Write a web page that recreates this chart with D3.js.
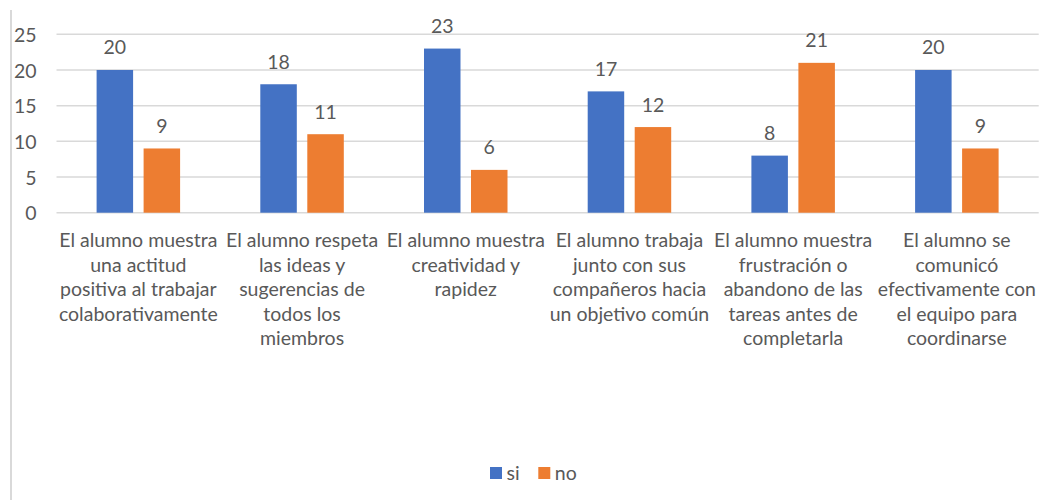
<!DOCTYPE html>
<html>
<head>
<meta charset="utf-8">
<script src="https://cdn.jsdelivr.net/npm/d3@7"></script>
<style>
  html, body { margin: 0; padding: 0; background: #fff; }
  svg text { font-family: Lato, "Liberation Sans", sans-serif; fill: #595959; }
</style>
</head>
<body>
<div class="svg-wrapper"></div>
<script>
// categories, each label already broken into lines like the original
var categories = [
  ["El alumno muestra", "una actitud", "positiva al trabajar", "colaborativamente"],
  ["El alumno respeta", "las ideas y", "sugerencias de", "todos los", "miembros"],
  ["El alumno muestra", "creatividad y", "rapidez"],
  ["El alumno trabaja", "junto con sus", "compañeros hacia", "un objetivo común"],
  ["El alumno muestra", "frustración o", "abandono de las", "tareas antes de", "completarla"],
  ["El alumno se", "comunicó", "efectivamente con", "el equipo para", "coordinarse"]
];
var seriesNames = ["si", "no"];
var siValues = [20, 18, 23, 17, 8, 20];
var noValues = [9, 11, 6, 12, 21, 9];
var yTicks = [0, 5, 10, 15, 20, 25];
var colors = ["#4472C4", "#ED7D31"];

var W = 1046, H = 500;
var plot = {left: 56.5, right: 1038.7, top: 34.3, bottom: 212.7};
var fontSize = 19.5;

var svg = d3.select(".svg-wrapper").append("svg")
  .attr("width", W)
  .attr("height", H);

// left border of the chart frame
svg.append("line")
  .attr("x1", 11).attr("x2", 11)
  .attr("y1", 10).attr("y2", H)
  .attr("stroke", "#d9d9d9")
  .attr("stroke-width", 2);

var idx = d3.range(categories.length);

var x = d3.scaleBand()
  .domain(idx)
  .range([plot.left, plot.right])
  .paddingInner(0)
  .paddingOuter(0);

var bw = x.bandwidth();
var barW = 36.5, barGap = 10.5;
var xs = d3.scaleBand()
  .domain(seriesNames)
  .range([0, 2 * barW + barGap])
  .paddingInner(barGap / (barW + barGap))
  .paddingOuter(0);

var y = d3.scaleLinear()
  .domain([0, 25])
  .range([plot.bottom, plot.top]);

// gridlines
svg.append("g")
  .selectAll("line")
  .data(yTicks)
  .join("line")
  .attr("x1", plot.left)
  .attr("x2", plot.right)
  .attr("y1", function(d) { return y(d); })
  .attr("y2", function(d) { return y(d); })
  .attr("stroke", "#d9d9d9")
  .attr("stroke-width", 1.5);

// y axis labels
var yAxis = d3.axisLeft(y).tickValues(yTicks).tickSize(0).tickPadding(0);
var yg = svg.append("g")
  .attr("transform", "translate(" + 36.5 + ",0)")
  .call(yAxis);
yg.select(".domain").remove();
yg.selectAll("text")
  .attr("font-size", fontSize)
  .attr("font-family", null)
  .attr("dy", "0.36em")
  .style("fill", "#595959");

var series = [siValues, noValues];
var off = (bw - (2 * barW + barGap)) / 2;

series.forEach(function(vals, s) {
  var g = svg.append("g");
  g.selectAll("rect")
    .data(vals)
    .join("rect")
    .attr("x", function(d, i) { return x(i) + off + xs(seriesNames[s]); })
    .attr("y", function(d) { return y(d); })
    .attr("width", xs.bandwidth())
    .attr("height", function(d) { return y(0) - y(d); })
    .attr("fill", colors[s]);

  g.selectAll("text")
    .data(vals)
    .join("text")
    .attr("x", function(d, i) { return x(i) + off + xs(seriesNames[s]) + xs.bandwidth() / 2; })
    .attr("y", function(d) { return y(d) - 15.5; })
    .attr("text-anchor", "middle")
    .attr("font-size", fontSize)
    .text(function(d) { return d; });
});

// category labels
var lineH = 24.5;
var cat = svg.append("g")
  .selectAll("text")
  .data(categories)
  .join("text")
  .attr("text-anchor", "middle")
  .attr("font-size", fontSize)
  .attr("x", function(d, i) { return x(i) + bw / 2; })
  .attr("y", 247);
cat.selectAll("tspan")
  .data(function(d) { return d; })
  .join("tspan")
  .attr("x", function() { return d3.select(this.parentNode).attr("x"); })
  .attr("y", function(d, j) { return 247 + j * lineH; })
  .text(function(d) { return d; });

// legend
var legX = [490, 538.3];
var legend = svg.append("g");
seriesNames.forEach(function(name, s) {
  legend.append("rect")
    .attr("x", legX[s])
    .attr("y", 467)
    .attr("width", 12)
    .attr("height", 12)
    .attr("fill", colors[s]);
  legend.append("text")
    .attr("x", legX[s] + 16.5)
    .attr("y", 479.5)
    .attr("font-size", fontSize)
    .text(name);
});
</script>
</body>
</html>
